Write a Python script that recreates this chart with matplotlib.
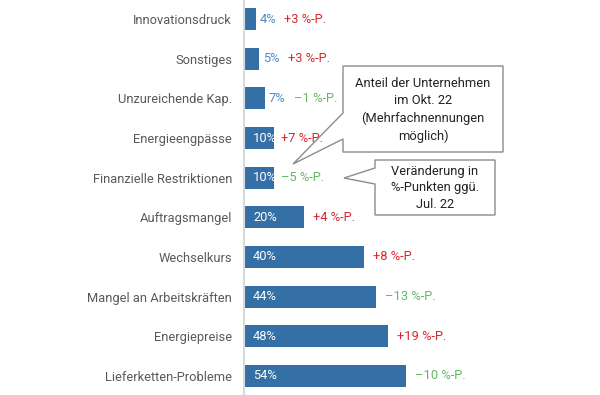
import matplotlib
matplotlib.use("Agg")
import matplotlib.pyplot as plt
from matplotlib.patches import Polygon

plt.rcParams['font.family'] = ['Roboto', 'DejaVu Sans']

# data (bottom to top)
categories = ['Lieferketten-Probleme', 'Energiepreise', 'Mangel an Arbeitskräften',
              'Wechselkurs', 'Auftragsmangel', 'Finanzielle Restriktionen',
              'Energieengpässe', 'Unzureichende Kap.', 'Sonstiges', 'Innovationsdruck']
share = [54, 48, 44, 40, 20, 10, 10, 7, 5, 4]
change = [-10, 19, -13, 8, 4, -5, 7, -1, 3, 3]

BAR = '#3470a6'
BLUE_TXT = '#5288c2'
RED = '#d7262e'
GREEN = '#62b862'
GRAY_TXT = '#595959'
FS = 9.3

fig = plt.figure(figsize=(6, 3.95), dpi=100)
W, H = 600, 395
ax = fig.add_axes([244 / W, 0, 1 - 244 / W, 1])
ax.set_xlim(0, 356 / 3)
ax.set_ylim(-0.479, len(categories) - 1 + 0.479)
# keep bar labels above the callout boxes
ax.set_zorder(6)
ax.patch.set_alpha(0)

ypos = list(range(len(categories)))
ax.barh(ypos, share, height=0.55, color=BAR, zorder=2)

for y, v, c in zip(ypos, share, change):
    if v >= 10:
        ax.text(3, y, f'{v}%', color='white', va='center', ha='left', fontsize=FS, zorder=3)
        pad = 2.3 if v < 20 else 3
    else:
        ax.text(v + 1.3, y, f'{v}%', color=BLUE_TXT, va='center', ha='left', fontsize=FS, zorder=3)
        pad = 9.5
    sign = '+' if c > 0 else '\u2013'
    ax.text(v + pad, y, f'{sign}{abs(c)} %-P.', color=RED if c > 0 else GREEN,
            va='center', ha='left', fontsize=FS, zorder=3)

ax.set_yticks(ypos)
ax.set_yticklabels(categories, fontsize=FS, color=GRAY_TXT)
ax.tick_params(axis='y', length=0, pad=8.6)
ax.set_xticks([])
for s in ['top', 'right', 'bottom']:
    ax.spines[s].set_visible(False)
ax.spines['left'].set_color('#d9d9d9')
ax.spines['left'].set_linewidth(1.5)


def callout(x0, y0, x1, y1, wy0, wy1, tip, text, tx, ty):
    # pixel coords from top-left
    pts = [(x0, y0), (x1, y0), (x1, y1), (x0, y1), (x0, wy1), tip, (x0, wy0)]
    pts = [(px / W, 1 - py / H) for px, py in pts]
    fig.add_artist(Polygon(pts, closed=True, facecolor='white', edgecolor='#8c8c8c',
                           linewidth=1.0, transform=fig.transFigure, zorder=4))
    fig.text(tx / W, 1 - ty / H, text, ha='center', va='center', fontsize=FS,
             color='#222222', linespacing=1.4, zorder=5)


callout(343, 66, 503, 152, 113, 139, (293, 164),
        'Anteil der Unternehmen\nim Okt. 22\n(Mehrfachnennungen\nmöglich)', 423, 110)
callout(375, 160, 495, 215, 168, 184, (344, 178),
        'Veränderung in\n%-Punkten ggü.\nJul. 22', 435, 188)

fig.savefig('out.png', dpi=100)
